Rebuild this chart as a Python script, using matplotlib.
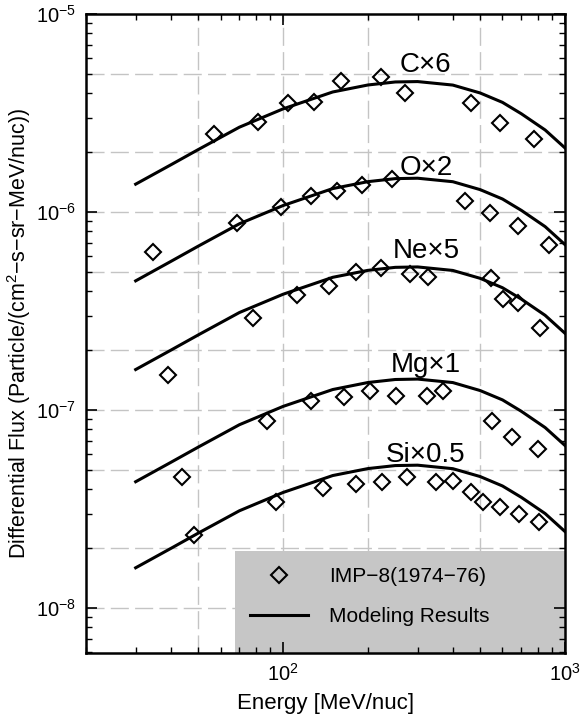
import matplotlib
matplotlib.use('Agg')
import matplotlib.pyplot as plt
from matplotlib.patches import Rectangle
from matplotlib.lines import Line2D
from matplotlib.ticker import NullFormatter

plt.rcParams['font.family'] = ['Liberation Sans', 'DejaVu Sans']
plt.rcParams['mathtext.fontset'] = 'custom'
plt.rcParams['mathtext.rm'] = 'Liberation Sans'
plt.rcParams['mathtext.it'] = 'Liberation Sans:italic'
plt.rcParams['mathtext.default'] = 'regular'

# IMP-8 (1974-76) measurements, energy in MeV/nuc
c_e = [57, 81.5, 104, 129, 161, 223, 271, 464, 589, 773]
c_f = [2.48e-6, 2.85e-6, 3.54e-6, 3.61e-6, 4.60e-6, 4.82e-6, 3.98e-6, 3.54e-6, 2.81e-6, 2.34e-6]

o_e = [34.7, 68.5, 98.1, 126, 155, 191, 243, 442, 542, 679, 879]
o_f = [6.30e-7, 8.77e-7, 1.06e-6, 1.20e-6, 1.27e-6, 1.37e-6, 1.46e-6, 1.14e-6, 9.85e-7, 8.53e-7, 6.81e-7]

ne_e = [39.2, 78.2, 112, 146, 181.5, 222, 282, 327, 545, 601, 683, 815]
ne_f = [1.51e-7, 2.92e-7, 3.81e-7, 4.21e-7, 4.99e-7, 5.20e-7, 4.84e-7, 4.71e-7, 4.63e-7, 3.62e-7, 3.46e-7, 2.61e-7]

mg_e = [43.8, 87.5, 126, 164, 203, 251, 323, 370, 553, 647, 804]
mg_f = [4.60e-8, 8.80e-8, 1.107e-7, 1.17e-7, 1.25e-7, 1.18e-7, 1.18e-7, 1.25e-7, 8.82e-8, 7.33e-8, 6.32e-8]

si_e = [48.3, 94.4, 139, 182, 224, 275, 349, 402, 464, 513, 588, 687, 811]
si_f = [2.34e-8, 3.45e-8, 4.03e-8, 4.23e-8, 4.31e-8, 4.60e-8, 4.35e-8, 4.38e-8, 3.84e-8, 3.42e-8, 3.25e-8, 2.97e-8, 2.73e-8]

# modeling results
e_model = [30, 40, 50, 70, 100, 150, 200, 250, 300, 400, 500, 600, 700, 850, 1000]
c_model = [1.382e-6, 1.731e-6, 2.066e-6, 2.681e-6, 3.317e-6, 4.037e-6, 4.379e-6, 4.535e-6,
           4.556e-6, 4.374e-6, 3.990e-6, 3.577e-6, 3.133e-6, 2.595e-6, 2.105e-6]
o_model = [4.49e-7, 5.63e-7, 6.72e-7, 8.72e-7, 1.078e-6, 1.313e-6, 1.423e-6, 1.474e-6,
           1.481e-6, 1.422e-6, 1.297e-6, 1.163e-6, 1.019e-6, 8.436e-7, 6.84e-7]
ne_model = [1.601e-7, 2.006e-7, 2.394e-7, 3.107e-7, 3.843e-7, 4.679e-7, 5.074e-7, 5.254e-7,
            5.279e-7, 5.068e-7, 4.624e-7, 4.145e-7, 3.631e-7, 3.007e-7, 2.439e-7]
mg_model = [4.344e-8, 5.443e-8, 6.496e-8, 8.429e-8, 1.043e-7, 1.269e-7, 1.377e-7, 1.426e-7,
            1.433e-7, 1.376e-7, 1.254e-7, 1.125e-7, 9.851e-8, 8.155e-8, 6.617e-8]
si_model = [1.597e-8, 2.001e-8, 2.389e-8, 3.099e-8, 3.834e-8, 4.668e-8, 5.062e-8, 5.242e-8,
            5.266e-8, 5.056e-8, 4.613e-8, 4.135e-8, 3.622e-8, 3.0e-8, 2.433e-8]

labels = ['C×6', 'O×2', 'Ne×5', 'Mg×1', 'Si×0.5']
label_y = [5.09e-6, 1.54e-6, 5.86e-7, 1.556e-7, 5.46e-8]
label_x = 321

fig = plt.figure(figsize=(5.8, 7.16), dpi=100)
ax = fig.add_axes([0.1483, 0.088, 0.8259, 0.8925])
ax.set_xscale('log')
ax.set_yscale('log')
ax.set_xlim(20, 1000)
ax.set_ylim(5.93e-9, 1e-5)

# dashed grid at 1-2-5
gx = [50, 100, 200, 500]
gy = [5e-6, 2e-6, 1e-6, 5e-7, 2e-7, 1e-7, 5e-8, 2e-8, 1e-8]
for v in gx:
    ax.axvline(v, color='#c4c4c4', lw=1.0, dashes=(13, 4.5), zorder=1)
for v in gy:
    ax.axhline(v, color='#c4c4c4', lw=1.0, dashes=(13, 4.5), zorder=1)

# legend background
ax.add_patch(Rectangle((0.311, 0), 0.689, 0.16, transform=ax.transAxes,
                       facecolor='#c6c6c6', edgecolor='none', zorder=1.2))

for e, f in [(c_e, c_f), (o_e, o_f), (ne_e, ne_f), (mg_e, mg_f), (si_e, si_f)]:
    ax.plot(e, f, 'D', ms=8, mfc='none', mec='black', mew=1.5, zorder=3)
for m in [c_model, o_model, ne_model, mg_model, si_model]:
    ax.plot(e_model, m, '-', color='black', lw=2.2, zorder=3, solid_joinstyle='round')

for t, y in zip(labels, label_y):
    ax.text(label_x, y, t, ha='center', va='baseline', fontsize=20, zorder=4)

ax.set_axisbelow(False)
ax.tick_params(which='both', direction='in', top=True, right=True, labelsize=14.5, pad=7)
ax.tick_params(which='major', length=8, width=1.2)
ax.tick_params(which='minor', length=4, width=1.0)
ax.xaxis.set_minor_formatter(NullFormatter())
ax.yaxis.set_minor_formatter(NullFormatter())
for s in ax.spines.values():
    s.set_linewidth(1.8)

ax.set_xlabel('Energy [MeV/nuc]', fontsize=16, labelpad=6)
ax.set_ylabel('Differential Flux (Particle/(cm$^2$−s−sr−MeV/nuc))', fontsize=15.5, labelpad=2)

h1 = Line2D([], [], ls='none', marker='D', ms=8, mfc='none', mec='black', mew=1.5)
h2 = Line2D([], [], color='black', lw=2.2)
ax.legend([h1, h2], ['IMP−8(1974−76)', 'Modeling Results'], loc='upper left',
          bbox_to_anchor=(0.342, 0.134), frameon=False, borderpad=0, borderaxespad=0,
          handlelength=2.8, handletextpad=1.0, labelspacing=1.0, fontsize=15)

fig.savefig('out.png', dpi=100)
